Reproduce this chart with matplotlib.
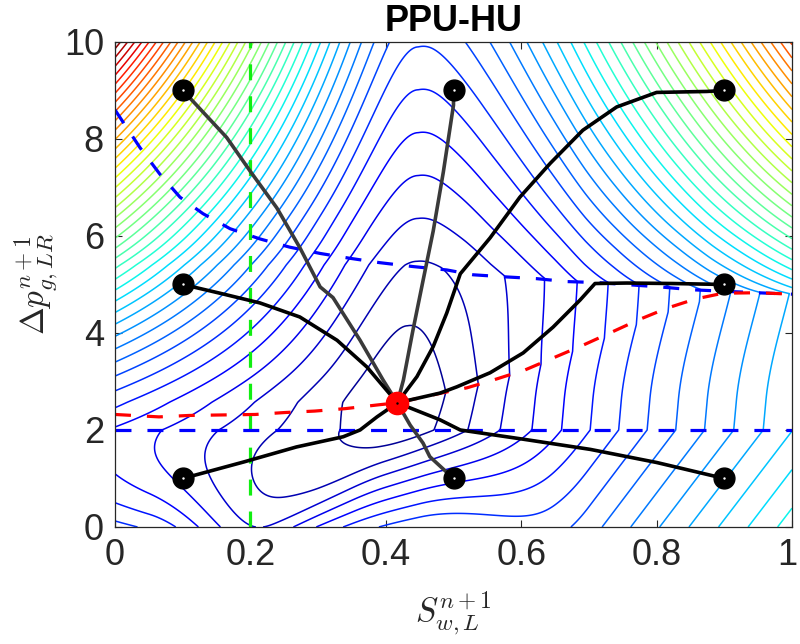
import numpy as np
import matplotlib
matplotlib.use('Agg')
import matplotlib.pyplot as plt
from matplotlib.transforms import ScaledTranslation

plt.rcParams['font.family'] = ['Liberation Sans', 'DejaVu Sans']
plt.rcParams['mathtext.fontset'] = 'cm'

# upper blue boundary
s_upper = [0.0, 0.037, 0.066, 0.096, 0.13, 0.17, 0.214, 0.258, 0.303, 0.347, 0.391,
           0.44, 0.49, 0.529, 0.573, 0.623, 0.667, 0.712, 0.805, 0.854, 0.948, 1.0]
p_upper = [8.6, 7.82, 7.28, 6.8, 6.46, 6.15, 5.94, 5.77, 5.64, 5.54, 5.45,
           5.37, 5.3, 5.2, 5.16, 5.12, 5.06, 5.04, 4.95, 4.89, 4.83, 4.8]
# red dashed curve
s_red = [0.0, 0.065, 0.11, 0.158, 0.207, 0.251, 0.295, 0.34, 0.39, 0.417, 0.485, 0.52,
         0.561, 0.606, 0.648, 0.69, 0.731, 0.773, 0.815, 0.857, 0.898, 0.95, 1.0]
p_red = [2.32, 2.27, 2.3, 2.31, 2.32, 2.36, 2.39, 2.44, 2.52, 2.56, 2.77, 2.87,
         3.04, 3.24, 3.49, 3.74, 4.0, 4.27, 4.51, 4.7, 4.82, 4.83, 4.8]
p_lower = 2.0
s_green = 0.2

# start points and the converged point
s_start = [0.1, 0.5, 0.9, 0.1, 0.9, 0.1, 0.5, 0.9]
p_start = [9, 9, 9, 5, 5, 1, 1, 1]
s_final, p_final = 0.417, 2.56

# iteration paths (start -> final)
paths = {
    'A': ([0.1, 0.115, 0.165, 0.2, 0.239, 0.273, 0.303, 0.322, 0.362, 0.396, 0.417],
          [9.0, 8.78, 8.03, 7.33, 6.58, 5.76, 4.95, 4.73, 3.85, 3.03, 2.56]),
    'B': ([0.5, 0.5, 0.485, 0.47, 0.455, 0.44, 0.426, 0.417],
          [9.0, 8.7, 7.32, 6.1, 5.08, 4.05, 3.03, 2.56]),
    'C': ([0.9, 0.874, 0.8, 0.741, 0.691, 0.643, 0.598, 0.554, 0.51, 0.49, 0.47, 0.446, 0.417],
          [9.0, 8.98, 8.96, 8.66, 8.18, 7.5, 6.8, 5.96, 5.22, 4.41, 3.72, 3.1, 2.56]),
    'D': ([0.1, 0.155, 0.214, 0.273, 0.328, 0.372, 0.417],
          [5.0, 4.82, 4.62, 4.33, 3.85, 3.3, 2.56]),
    'E': ([0.1, 0.19, 0.268, 0.337, 0.362, 0.387, 0.417],
          [1.0, 1.34, 1.65, 1.86, 2.0, 2.27, 2.56]),
    'F': ([0.5, 0.465, 0.455, 0.436, 0.417],
          [1.0, 1.45, 1.73, 2.1, 2.56]),
    'G': ([0.9, 0.824, 0.756, 0.709, 0.687, 0.647, 0.603, 0.554, 0.505, 0.48, 0.417],
          [5.0, 5.02, 5.03, 5.02, 4.68, 4.12, 3.59, 3.18, 2.89, 2.76, 2.56]),
    'H': ([0.9, 0.8, 0.702, 0.603, 0.51, 0.48, 0.417],
          [1.0, 1.33, 1.6, 1.81, 2.0, 2.21, 2.56]),
}
gray_paths = ['A', 'B', 'F']
S0 = 0.42   # valley column


def smooth(a, b, x):
    t = np.clip((x - a) / (b - a), 0, 1)
    return t * t * (3 - 2 * t)


def band_right(s, p):
    r = np.interp(s, s_red, p_red)
    w = 0.15 + 0.37 * (1 - smooth(S0, 0.65, s))
    q = 1.2 - 0.2 * smooth(S0, 0.6, s)
    h = 23 * (np.sqrt((s - S0) ** 2 + 0.04 ** 2) - 0.04)
    return h + w * np.abs(p - r) ** q


def f_right(s, p):
    u = np.interp(s, s_upper, p_upper)
    dd = np.sqrt((s - S0) ** 2 + 0.02 ** 2) - 0.02
    K = 5.2 + 44 * dd ** 1.5
    eu = 1 - 0.15 * smooth(0.45, 1.0, s)
    frac = np.clip((p - u) / (10 - u), 0, None)
    return np.where(p > u, band_right(s, u) + K * frac ** eu, band_right(s, p))


def f_left(s, p):
    amp = 0.22 + 2.06 * p + 0.1017 * p ** 2
    x0 = 0.1 + 0.3 * smooth(3.0, 6.5, p)
    x = np.clip(S0 - s, 0, None) / S0
    g = (1 + x0) * x ** 2 / (x + x0)
    v = f_right(S0, p)
    v = np.where(p >= 2.57, v, v * (1 - x) ** 2)
    return v + amp * g


def f_mid(s, p):
    s = s - 0.028 * smooth(2.6, 6.0, p)
    return np.where(s >= S0, f_right(s, p), f_left(s, p))


# objective surface
S, P = np.meshgrid(np.linspace(0, 1, 801), np.linspace(0, 10, 801))
Z = f_mid(S, P)

k = 0.06 + 0.04 * smooth(0.05, 0.25, S) - 0.06 * smooth(0.35, 0.65, S)
B = (1.0 - 0.36 * smooth(0.05, 0.2, S) + 1.2 * smooth(0.2, 0.4, S)
     - 1.5 * smooth(0.45, 0.7, S))
e = 2 - smooth(0.2, 0.4, S)
dl = np.clip(p_lower - P, 0, None)
Z = np.where(P < p_lower, f_mid(S + k * dl, p_lower) + B * dl ** e, Z)

fig = plt.figure(figsize=(8, 6.44), dpi=100)
ax = fig.add_axes([0.14375, 0.1817, 0.84625, 0.7531])

ztop = Z.max()
levels = np.arange(0.9, ztop, 1.0)
ax.contour(S, P, Z, levels=levels, cmap='jet', vmin=0, vmax=ztop, linewidths=1.1)

ax.plot([s_green, s_green], [0, 10], color='#11ee11', lw=2.3, dashes=[5, 5])
ax.plot([0, 1], [p_lower, p_lower], color='#0000ff', lw=2.3, dashes=[5, 5])
ax.plot(s_upper, p_upper, color='#0000ff', lw=2.3, dashes=[5, 5])
ax.plot(s_red, p_red, color='#ff0000', lw=2.3, dashes=[5, 5])

for name, (xs, ys) in paths.items():
    col = '#3a3a3a' if name in gray_paths else 'black'
    ax.plot(xs, ys, color=col, lw=2.6, solid_capstyle='round', solid_joinstyle='round')

ax.plot(s_start, p_start, 'o', color='black', ms=15)
ax.plot(s_start, p_start, '.', color='white', ms=1.5)
ax.plot(s_final, p_final, 'o', color='red', ms=16)
ax.plot(s_final, p_final, '.', color='black', ms=1.5)

ax.set_xlim(0, 1)
ax.set_ylim(0, 10)
ax.set_xticks([0, 0.2, 0.4, 0.6, 0.8, 1])
ax.set_xticklabels(['0', '0.2', '0.4', '0.6', '0.8', '1'])
ax.set_yticks([0, 2, 4, 6, 8, 10])
ax.tick_params(direction='in', length=5, width=0.8, top=True, right=True,
               labelsize=26, colors='#262626', pad=8)
last = ax.get_xticklabels()[-1]
last.set_transform(last.get_transform() + ScaledTranslation(-5 / 100, 0, fig.dpi_scale_trans))
for sp in ax.spines.values():
    sp.set_color('#262626')
    sp.set_linewidth(0.9)

ax.set_title('PPU-HU', fontsize=26, fontweight='bold', pad=8)
ax.set_xlabel(r'$S_{w,L}^{n+1}$', fontsize=24, color='#262626', labelpad=12)
ax.set_ylabel(r'$\Delta p_{g,LR}^{n+1}$', fontsize=24, color='#262626', labelpad=2)

fig.savefig('out.png', dpi=100)
